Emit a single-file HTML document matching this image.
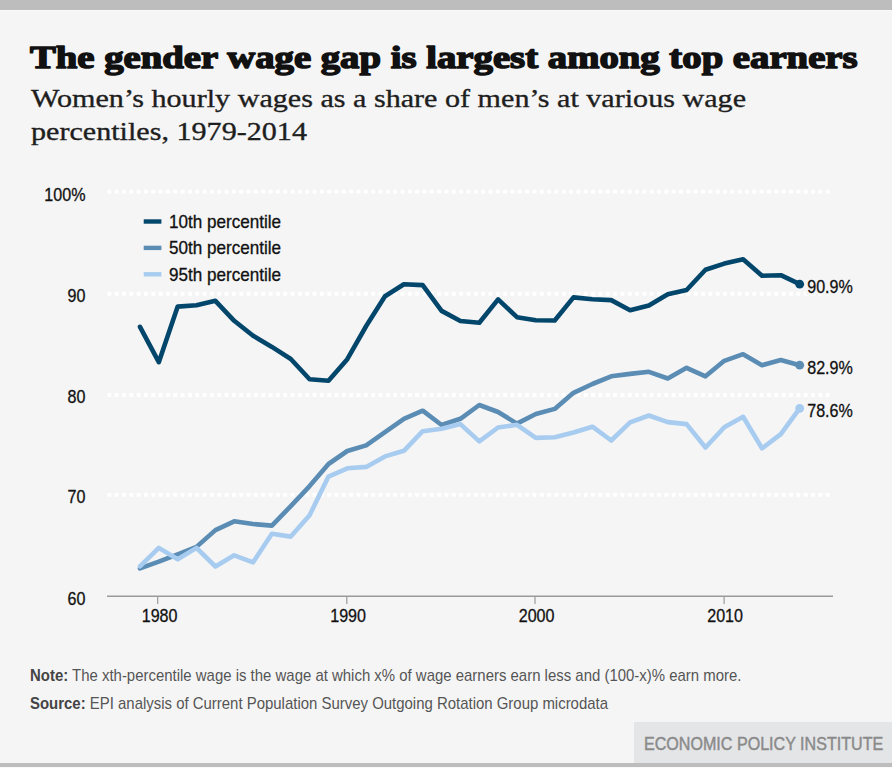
<!DOCTYPE html>
<html><head><meta charset="utf-8"><style>
html,body{margin:0;padding:0;background:#f5f5f5;}
body{width:892px;height:768px;overflow:hidden;position:relative;}
.bar{position:absolute;left:0;width:892px;background:#bdbdbd;}
svg{position:absolute;left:0;top:0;}
.ax{font-family:"Liberation Sans", sans-serif;font-size:18.5px;fill:#111;stroke:#111;stroke-width:0.3px;}
.lg{font-family:"Liberation Sans", sans-serif;font-size:17.5px;fill:#111;stroke:#111;stroke-width:0.3px;}
.ti{font-family:"Liberation Serif", serif;font-weight:bold;font-size:32.6px;fill:#111;stroke:#111;stroke-width:1.5px;stroke-linejoin:round;}
.st{font-family:"Liberation Serif", serif;font-size:26px;fill:#1e1e1e;stroke:#1e1e1e;stroke-width:0.35px;}
.nt{font-family:"Liberation Sans", sans-serif;font-size:16px;fill:#555;}
.epi{font-family:"Liberation Sans", sans-serif;font-size:18px;fill:#8a8a8a;stroke:#8a8a8a;stroke-width:0.45px;}
</style></head><body>
<div class="bar" style="top:0;height:10px"></div>
<div class="bar" style="top:10px;height:1px;background:#fafafa"></div>
<div class="bar" style="top:763px;height:4px"></div>
<div class="bar" style="top:767px;height:1px;background:#fafafa"></div>
<svg width="892" height="768" viewBox="0 0 892 768">
<line x1="107.3" x2="831" y1="191.7" y2="191.7" stroke="#fff" stroke-width="3.8" stroke-dasharray="4 3.33"/>
<line x1="107.3" x2="831" y1="293.75" y2="293.75" stroke="#fff" stroke-width="3.8" stroke-dasharray="4 3.33"/>
<line x1="107.3" x2="831" y1="395.0" y2="395.0" stroke="#fff" stroke-width="3.8" stroke-dasharray="4 3.33"/>
<line x1="107.3" x2="831" y1="494.8" y2="494.8" stroke="#fff" stroke-width="3.8" stroke-dasharray="4 3.33"/>
<line x1="107" x2="833" y1="596.2" y2="596.2" stroke="#9a9a9a" stroke-width="1.6"/>
<line x1="157.7" x2="157.7" y1="597" y2="604" stroke="#9a9a9a" stroke-width="1.2"/>
<line x1="346.8" x2="346.8" y1="597" y2="604" stroke="#9a9a9a" stroke-width="1.2"/>
<line x1="535.0" x2="535.0" y1="597" y2="604" stroke="#9a9a9a" stroke-width="1.2"/>
<line x1="724.1" x2="724.1" y1="597" y2="604" stroke="#9a9a9a" stroke-width="1.2"/>
<text transform="translate(85.5,201.0) scale(0.87,1)" text-anchor="end" class="ax">100%</text>
<text transform="translate(85.5,301.8) scale(0.87,1)" text-anchor="end" class="ax">90</text>
<text transform="translate(85.5,403.2) scale(0.87,1)" text-anchor="end" class="ax">80</text>
<text transform="translate(85.5,503.2) scale(0.87,1)" text-anchor="end" class="ax">70</text>
<text transform="translate(85.5,604.5) scale(0.87,1)" text-anchor="end" class="ax">60</text>
<text transform="translate(159.63000000000002,621.8) scale(0.87,1)" text-anchor="middle" class="ax">1980</text>
<text transform="translate(348.12000000000006,621.8) scale(0.87,1)" text-anchor="middle" class="ax">1990</text>
<text transform="translate(536.61,621.8) scale(0.87,1)" text-anchor="middle" class="ax">2000</text>
<text transform="translate(725.1,621.8) scale(0.87,1)" text-anchor="middle" class="ax">2010</text>
<polyline points="140.0,326.8 158.8,362.2 177.7,306.6 196.5,305.3 215.4,300.8 234.2,320.8 253.1,335.7 271.9,346.9 290.8,359.0 309.6,379.2 328.5,380.8 347.3,359.2 366.2,326.0 385.0,296.3 403.9,284.2 422.7,285.1 441.6,310.9 460.4,321.0 479.3,322.7 498.1,299.4 517.0,317.2 535.8,320.3 554.7,320.5 573.5,297.4 592.4,299.2 611.2,300.1 630.1,310.2 648.9,305.5 667.8,294.3 686.6,290.0 705.5,269.8 724.3,263.6 743.1,259.3 762.0,275.7 780.8,275.2 799.7,284.2" fill="none" stroke="#03466b" stroke-width="4.6" stroke-linejoin="round" stroke-linecap="round"/>
<polyline points="140.0,568.4 158.8,561.7 177.7,554.3 196.5,546.9 215.4,530.1 234.2,521.3 253.1,524.0 271.9,525.6 290.8,506.1 309.6,486.1 328.5,464.0 347.3,451.0 366.2,445.4 385.0,432.2 403.9,418.8 422.7,410.7 441.6,425.0 460.4,418.8 479.3,405.0 498.1,412.0 517.0,423.6 535.8,414.0 554.7,408.9 573.5,392.8 592.4,384.0 611.2,376.3 630.1,373.9 648.9,371.8 667.8,378.5 686.6,367.8 705.5,376.3 724.3,360.8 743.1,354.2 762.0,365.2 780.8,360.0 799.7,365.2" fill="none" stroke="#5a8cb4" stroke-width="4.6" stroke-linejoin="round" stroke-linecap="round"/>
<polyline points="140.0,566.4 158.8,547.9 177.7,559.3 196.5,547.9 215.4,566.5 234.2,555.3 253.1,562.3 271.9,533.8 290.8,536.6 309.6,515.2 328.5,476.6 347.3,468.3 366.2,466.9 385.0,456.4 403.9,450.8 422.7,431.2 441.6,428.7 460.4,424.1 479.3,441.4 498.1,427.5 517.0,424.8 535.8,437.9 554.7,437.2 573.5,432.5 592.4,426.7 611.2,440.5 630.1,422.3 648.9,415.5 667.8,422.1 686.6,424.1 705.5,447.5 724.3,427.2 743.1,416.8 762.0,448.3 780.8,434.2 799.7,408.3" fill="none" stroke="#a7ccf0" stroke-width="4.6" stroke-linejoin="round" stroke-linecap="round"/>
<circle cx="799.7" cy="284.2" r="4.4" fill="#03466b"/>
<rect x="806" y="278.7" width="46" height="16" fill="#f5f5f5"/>
<text transform="translate(807.2,293.3) scale(0.87,1)" class="ax">90.9%</text>
<circle cx="799.7" cy="365.2" r="4.4" fill="#5a8cb4"/>
<rect x="806" y="359.7" width="46" height="16" fill="#f5f5f5"/>
<text transform="translate(807.2,374.3) scale(0.87,1)" class="ax">82.9%</text>
<circle cx="799.7" cy="408.3" r="4.4" fill="#a7ccf0"/>
<rect x="806" y="402.8" width="46" height="16" fill="#f5f5f5"/>
<text transform="translate(807.2,417.40000000000003) scale(0.87,1)" class="ax">78.6%</text>
<rect x="143.7" y="219.3" width="17.7" height="4.4" fill="#03466b"/>
<text transform="translate(169,228.0) scale(0.976,1)" class="lg">10th percentile</text>
<rect x="143.7" y="245.70000000000002" width="17.7" height="4.4" fill="#5a8cb4"/>
<text transform="translate(169,254.4) scale(0.976,1)" class="lg">50th percentile</text>
<rect x="143.7" y="272.1" width="17.7" height="4.4" fill="#a7ccf0"/>
<text transform="translate(169,280.8) scale(0.976,1)" class="lg">95th percentile</text>
<text transform="translate(29.9,68.3) scale(1.1884,1)" class="ti">The gender wage gap is largest among top earners</text>
<text transform="translate(31,106.8) scale(1.1586,1)" class="st">Women’s hourly wages as a share of men’s at various wage</text>
<text transform="translate(31,140.3) scale(1.1586,1)" class="st">percentiles, 1979-2014</text>
<text transform="translate(30,680.8) scale(0.935,1)" class="nt"><tspan font-weight="bold" fill="#444">Note:</tspan> The xth-percentile wage is the wage at which x% of wage earners earn less and (100-x)% earn more.</text>
<text transform="translate(30,708.6) scale(0.935,1)" class="nt"><tspan font-weight="bold" fill="#444">Source:</tspan> EPI analysis of Current Population Survey Outgoing Rotation Group microdata</text>
<rect x="634" y="722" width="258" height="41" fill="#e4e5e7"/>
<text transform="translate(644,749.5) scale(0.894,1)" class="epi">ECONOMIC POLICY INSTITUTE</text>
</svg>
</body></html>
